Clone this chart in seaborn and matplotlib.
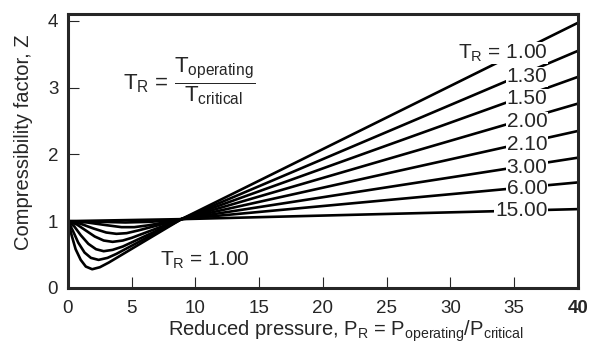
import matplotlib
matplotlib.use("Agg")
import matplotlib.pyplot as plt
import seaborn as sns
import pandas as pd

# reduced temperature of each curve
tr_labels = ["1.00", "1.30", "1.50", "2.00", "2.10", "3.00", "6.00", "15.00"]

# (P_R, Z) points, one list per curve
p_100 = [0, 0.3, 0.6, 1.0, 1.4, 1.9, 2.5, 3.2, 8.9, 40]
z_100 = [1.0, 0.78, 0.58, 0.42, 0.32, 0.28, 0.31, 0.38, 1.03, 3.97]
p_130 = [0, 0.4, 0.8, 1.3, 1.8, 2.4, 3.1, 3.8, 8.9, 40]
z_130 = [1.0, 0.85, 0.68, 0.53, 0.45, 0.42, 0.45, 0.51, 1.03, 3.55]
p_150 = [0, 0.5, 1.0, 1.6, 2.2, 2.8, 3.5, 4.3, 8.9, 40]
z_150 = [1.0, 0.92, 0.79, 0.66, 0.58, 0.55, 0.57, 0.62, 1.03, 3.16]
p_200 = [0, 0.7, 1.4, 2.1, 2.8, 3.5, 4.3, 5.0, 8.9, 40]
z_200 = [1.0, 0.95, 0.86, 0.77, 0.71, 0.69, 0.71, 0.75, 1.03, 2.76]
p_210 = [0, 1.0, 2.0, 3.0, 3.8, 4.6, 5.5, 8.9, 40]
z_210 = [1.0, 0.96, 0.89, 0.83, 0.81, 0.82, 0.86, 1.03, 2.35]
p_300 = [0, 1.5, 3.0, 4.2, 5.2, 6.4, 8.9, 40]
z_300 = [1.0, 0.98, 0.94, 0.91, 0.91, 0.94, 1.03, 1.95]
p_600 = [0, 2.5, 4.5, 6.5, 8.9, 40]
z_600 = [1.0, 0.99, 0.98, 0.99, 1.03, 1.58]
p_1500 = [0, 8.9, 40]
z_1500 = [1.0, 1.03, 1.18]

p_series = [p_100, p_130, p_150, p_200, p_210, p_300, p_600, p_1500]
z_series = [z_100, z_130, z_150, z_200, z_210, z_300, z_600, z_1500]

x_ticks = [0, 5, 10, 15, 20, 25, 30, 35, 40]
y_ticks = [0, 1, 2, 3, 4]

frames = []
for tr, ps, zs in zip(tr_labels, p_series, z_series):
    frames.append(pd.DataFrame({"P": ps, "Z": zs, "TR": tr}))
df = pd.concat(frames, ignore_index=True)

sns.set_style("ticks")
plt.rcParams["font.family"] = ["Liberation Sans", "DejaVu Sans"]
plt.rcParams["mathtext.fontset"] = "custom"
plt.rcParams["mathtext.rm"] = "Liberation Sans"
plt.rcParams["mathtext.it"] = "Liberation Sans"

fig, ax = plt.subplots(figsize=(5.91, 3.52), dpi=100)
fig.subplots_adjust(left=0.115, right=0.978, bottom=0.182, top=0.960)

sns.lineplot(data=df, x="P", y="Z", hue="TR", units="TR", estimator=None, sort=False,
             palette=["black"] * len(tr_labels), linewidth=1.9, legend=False, ax=ax)

# curve labels sitting on the lines, white box hides the line behind
for tr, ps, zs in zip(tr_labels, p_series, z_series):
    z_at = zs[-2] + (zs[-1] - zs[-2]) * (35.2 - ps[-2]) / (ps[-1] - ps[-2])
    txt = "T$_\\mathrm{R}$ = " + tr if tr == "1.00" else tr
    ax.text(37.6, z_at, txt, ha="right", va="center", fontsize=15, zorder=5,
            bbox=dict(facecolor="white", edgecolor="none", pad=0.3))

ax.text(7.2, 0.42, "T$_\\mathrm{R}$ = 1.00", ha="left", va="center", fontsize=15)
ax.text(4.3, 3.1, r"T$_\mathrm{R}$ = $\dfrac{\mathrm{T_{operating}}}{\mathrm{T_{critical}}}$",
        ha="left", va="center", fontsize=16)

ax.set_xlim(0, 40)
ax.set_ylim(0, 4.1)
ax.set_xticks(x_ticks)
ax.set_yticks(y_ticks)
ax.set_xticklabels([str(t) for t in x_ticks], fontsize=13.5)
ax.set_yticklabels([str(t) for t in y_ticks], fontsize=13.5)
ax.get_xticklabels()[-1].set_fontweight("bold")
ax.tick_params(direction="in", length=8, width=0.8)
ax.tick_params(axis="x", pad=9)
ax.tick_params(axis="y", pad=7)
for s in ax.spines.values():
    s.set_linewidth(2.2)

ax.set_xlabel("Reduced pressure, P$_\\mathrm{R}$ = P$_\\mathrm{operating}$/P$_\\mathrm{critical}$",
              fontsize=14.5)
ax.set_ylabel("Compressibility factor, Z", fontsize=14.5)
ax.xaxis.set_label_coords(0.545, -0.112)
ax.yaxis.set_label_coords(-0.068, 0.531)

plt.savefig("out.png", dpi=100)
